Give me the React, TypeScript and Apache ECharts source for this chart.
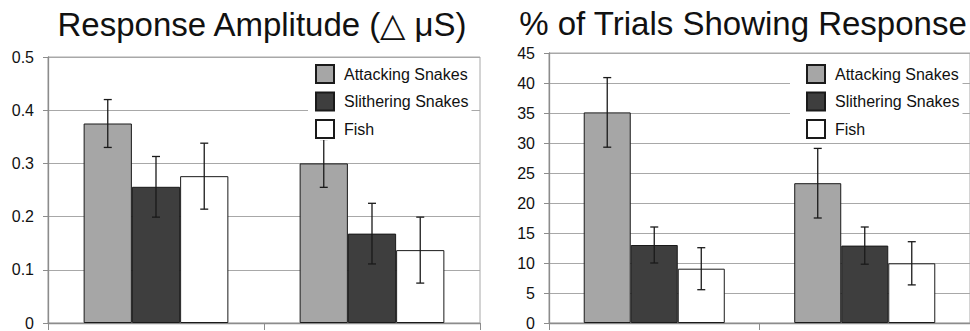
import React, { useEffect, useRef } from "react";
import * as echarts from "echarts";

const categories = ["Group 1", "Group 2"];
const seriesNames = ["Attacking Snakes", "Slithering Snakes", "Fish"];

// Response amplitude (delta microSiemens)
const ampAttacking = [0.375, 0.3];
const ampSlithering = [0.256, 0.168];
const ampFish = [0.276, 0.137];
const ampAttackingErr = [0.045, 0.045];
const ampSlitheringErr = [0.057, 0.057];
const ampFishErr = [0.062, 0.062];
const ampTicks = { min: 0, max: 0.5, interval: 0.1 };

// % of trials showing response
const pctAttacking = [35.1, 23.3];
const pctSlithering = [13.0, 12.9];
const pctFish = [9.05, 9.95];
const pctAttackingErr = [5.8, 5.8];
const pctSlitheringErr = [3.0, 3.1];
const pctFishErr = [3.5, 3.6];
const pctTicks = { min: 0, max: 45, interval: 5 };

const titles = ["Response Amplitude (\u25B3 \u03BCS)", "% of Trials Showing Response"];

const FONT = "'Liberation Sans', Arial, Helvetica, sans-serif";
const fills = ["#a6a6a6", "#3e3e3e", "#ffffff"];
const GRID_COLOR = "#a8a8a8";
const AXIS_COLOR = "#8c8c8c";
const GAP = 0.33;

export default function App() {
  const ref = useRef<HTMLDivElement>(null);
  useEffect(() => {
    document.body.style.margin = "0";
    if (!ref.current) return;
    const chart = echarts.init(ref.current, null, { renderer: "svg" });

    const grids = [
      { left: 48, top: 57, width: 432, height: 267 },
      { left: 549, top: 53, width: 424, height: 270 },
    ];
    const ticks = [ampTicks, pctTicks];
    const means = [
      [ampAttacking, ampSlithering, ampFish],
      [pctAttacking, pctSlithering, pctFish],
    ];
    const errs = [
      [ampAttackingErr, ampSlitheringErr, ampFishErr],
      [pctAttackingErr, pctSlitheringErr, pctFishErr],
    ];

    const series: any[] = [];
    for (let g = 0; g < 2; g++) {
      for (let k = 0; k < 3; k++) {
        series.push({
          type: "bar",
          name: seriesNames[k],
          xAxisIndex: g,
          yAxisIndex: g,
          data: means[g][k],
          barGap: "0%",
          barCategoryGap: GAP * 100 + "%",
          itemStyle: { color: fills[k], borderColor: "#1a1a1a", borderWidth: 1 },
          emphasis: { disabled: true },
        });
      }
      for (let k = 0; k < 3; k++) {
        const data = means[g][k].map((m, i) => [i, m - errs[g][k][i], m + errs[g][k][i]]);
        series.push({
          type: "custom",
          name: "err" + g + k,
          xAxisIndex: g,
          yAxisIndex: g,
          data,
          z: 3,
          encode: { x: 0, y: [1, 2] },
          renderItem: (params: any, api: any) => {
            const cat = api.value(0);
            const lo = api.coord([cat, api.value(1)]);
            const hi = api.coord([cat, api.value(2)]);
            const bandW = api.size([1, 0])[0];
            const barW = (bandW * (1 - GAP)) / 3;
            const x = lo[0] + (k - 1) * barW;
            const cap = 4;
            const style = { stroke: "#1a1a1a", lineWidth: 1.3 };
            return {
              type: "group",
              children: [
                { type: "line", shape: { x1: x, y1: lo[1], x2: x, y2: hi[1] }, style },
                { type: "line", shape: { x1: x - cap, y1: lo[1], x2: x + cap, y2: lo[1] }, style },
                { type: "line", shape: { x1: x - cap, y1: hi[1], x2: x + cap, y2: hi[1] }, style },
              ],
            };
          },
        });
      }
    }

    const legendBase = {
      orient: "vertical",
      data: seriesNames,
      itemWidth: 18,
      itemHeight: 18,
      itemGap: 7.5,
      z: 20,
      backgroundColor: "#ffffff",
      icon: "rect",
      selectedMode: false,
      textStyle: {
        fontFamily: FONT,
        fontSize: 16,
        lineHeight: 18,
        color: "#111",
        padding: [0, 0, 0, 5],
      },
    };

    chart.setOption({
      animation: false,
      backgroundColor: "#ffffff",
      grid: grids.map((g) => ({
        ...g,
        show: true,
        borderColor: GRID_COLOR,
        borderWidth: 1,
        backgroundColor: "transparent",
        containLabel: false,
      })),
      xAxis: [0, 1].map((g) => ({
        type: "category",
        gridIndex: g,
        data: categories,
        axisLine: { show: true, lineStyle: { color: AXIS_COLOR, width: 1.3 } },
        axisTick: { show: true, length: 7, lineStyle: { color: AXIS_COLOR } },
        axisLabel: { show: false },
      })),
      yAxis: [0, 1].map((g) => ({
        type: "value",
        gridIndex: g,
        min: ticks[g].min,
        max: ticks[g].max,
        interval: ticks[g].interval,
        axisLine: { show: true, lineStyle: { color: AXIS_COLOR, width: 1.3 } },
        axisTick: { show: true, length: 5, lineStyle: { color: AXIS_COLOR } },
        splitLine: { show: true, lineStyle: { color: GRID_COLOR, width: 1 } },
        axisLabel: { fontFamily: FONT, fontSize: 16, color: "#111", margin: 14 },
      })),
      legend: [
        { ...legendBase, left: 308, top: 60, padding: [4, 3, 1, 7] },
        { ...legendBase, left: 790, top: 60, padding: [4, 3, 1, 16] },
      ],
      graphic: [
        {
          type: "text",
          x: 262,
          y: 24,
          style: {
            text: titles[0],
            fontFamily: FONT,
            fontSize: 33,
            fill: "#111",
            textAlign: "center",
            textVerticalAlign: "middle",
          },
        },
        {
          type: "text",
          x: 743,
          y: 23,
          style: {
            text: titles[1],
            fontFamily: FONT,
            fontSize: 33,
            fill: "#111",
            textAlign: "center",
            textVerticalAlign: "middle",
          },
        },
      ],
      series,
    });
    return () => chart.dispose();
  }, []);
  return (
    <div
      ref={ref}
      style={{ position: "absolute", left: 0, top: 0, width: 970, height: 331 }}
    />
  );
}
